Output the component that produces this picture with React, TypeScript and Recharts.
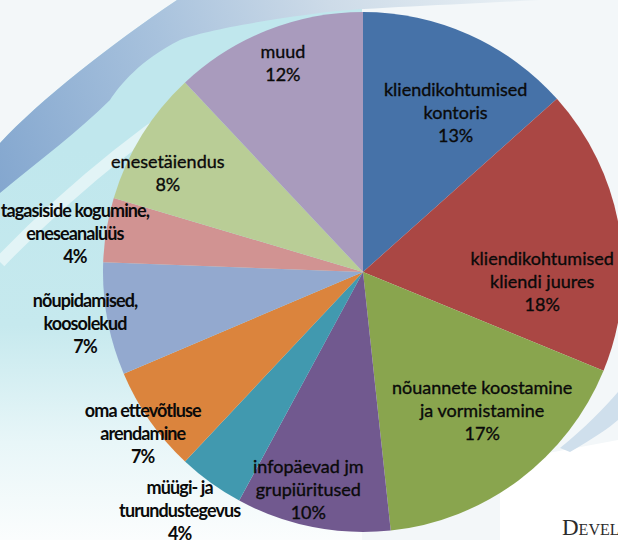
import { PieChart, Pie, Cell } from "recharts";

// slice names (line breaks as in the original labels)
const NAMES = [
  "kliendikohtumised\nkontoris",
  "kliendikohtumised\nkliendi juures",
  "nõuannete koostamine\nja vormistamine",
  "infopäevad jm\ngrupiüritused",
  "müügi- ja\nturundustegevus",
  "oma ettevõtluse\narendamine",
  "nõupidamised,\nkoosolekud",
  "tagasiside kogumine,\neneseanalüüs",
  "enesetäiendus",
  "muud",
];
// share of time, %
const VALUES = [13.4, 17.8, 17.1, 9.6, 4.1, 6.6, 7.0, 4.0, 8.4, 12.0];

const COLORS = [
  "#4672a8", "#aa4744", "#89a54e", "#71598f", "#4199af",
  "#db843d", "#93a9cf", "#d19392", "#b9cd96", "#a99bbd",
];

// label placement: [radius factor, angle nudge in degrees clockwise]
const LABEL_POS: Array<[number, number]> = [
  [0.71, 6], [0.69, 12.6], [0.7, -4], [0.86, 3], [1.155, 1.8],
  [1.05, -1.3], [1.087, 0], [1.118, -1.7], [0.843, -4.6], [0.864, 0.7],
];

const data = NAMES.map((name, i) => ({ name, value: VALUES[i] }));

const RAD = Math.PI / 180;
const LINE_H = 23;

function renderLabel(props: any) {
  const { cx, cy, midAngle, outerRadius, percent, index, name } = props;
  const [f, shift] = LABEL_POS[index];
  const a = (midAngle - shift) * RAD;
  const r = outerRadius * f;
  const x = cx + r * Math.cos(a);
  const y = cy - r * Math.sin(a);
  const lines = [...String(name).split("\n"), `${Math.round(percent * 100)}%`];
  const outside = f > 1;
  return (
    <text
      x={x}
      y={y}
      textAnchor="middle"
      dominantBaseline="central"
      fontFamily="Lato, 'Open Sans', sans-serif"
      fontSize={18}
      fontWeight={outside ? 700 : 400}
      letterSpacing={outside ? -0.9 : 0}
      fill="#0a0a0a"
      stroke="#0a0a0a"
      strokeWidth={outside ? 0 : 0.35}
    >
      {lines.map((l, i) => (
        <tspan key={i} x={x} dy={i === 0 ? (-(lines.length - 1) / 2) * LINE_H : LINE_H}>
          {l}
        </tspan>
      ))}
    </text>
  );
}

function Background() {
  return (
    <svg width={618} height={540} style={{ position: "absolute", left: 0, top: 0 }}>
      <defs>
        <linearGradient id="cyan" x1="0" y1="150" x2="0" y2="540" gradientUnits="userSpaceOnUse">
          <stop offset="0" stopColor="#c0e7ed" />
          <stop offset="0.45" stopColor="#c6e9ee" />
          <stop offset="0.75" stopColor="#e8f6f8" />
          <stop offset="1" stopColor="#fbfdfd" />
        </linearGradient>
        <linearGradient id="band" x1="0" y1="190" x2="540" y2="0" gradientUnits="userSpaceOnUse">
          <stop offset="0" stopColor="#84a7cf" />
          <stop offset="0.35" stopColor="#a8c2dd" />
          <stop offset="0.65" stopColor="#cddbe8" />
          <stop offset="1" stopColor="#eaf1f5" />
        </linearGradient>
      </defs>
      <rect width={618} height={540} fill="#f3f7f9" />
      <path d="M0,143 C40,100 110,45 177,0 L362,0 L362,540 L0,540 Z" fill="url(#cyan)" />
      <path d="M0,262 C60,200 140,130 240,70" fill="none" stroke="#e2f4f6" strokeWidth={12} />
      <path
        d="M0,143 C40,100 110,45 177,0 L540,0 C450,5 360,8 320,13 C250,22 200,32 180,40 C140,60 120,85 110,100 C80,130 40,160 0,193 Z"
        fill="url(#band)"
      />
      <path d="M500,462 L618,440 L618,540 L500,540 Z" fill="#ffffff" />
      <path d="M618,392 C604,408 585,428 560,448 L570,452 C594,438 609,428 618,420 Z" fill="#cfdfec" />
      <text x={562} y={535} fontFamily="'Liberation Serif', serif" fontSize={23} fill="#2b2b2b" style={{ fontVariant: "small-caps" }}>
        Development
      </text>
    </svg>
  );
}

export default function App() {
  return (
    <div style={{ position: "fixed", left: 0, top: 0, width: 618, height: 540, overflow: "hidden" }}>
      <Background />
      <div style={{ position: "absolute", left: 0, top: 0 }}>
        <PieChart width={618} height={540} margin={{ top: 0, right: 0, bottom: 0, left: 0 }}>
          <Pie
            data={data}
            dataKey="value"
            nameKey="name"
            cx={363}
            cy={272}
            outerRadius={260}
            startAngle={90}
            endAngle={-270}
            stroke="none"
            label={renderLabel}
            labelLine={false}
            isAnimationActive={false}
          >
            {data.map((d, i) => (
              <Cell key={d.name} fill={COLORS[i]} />
            ))}
          </Pie>
        </PieChart>
      </div>
    </div>
  );
}
